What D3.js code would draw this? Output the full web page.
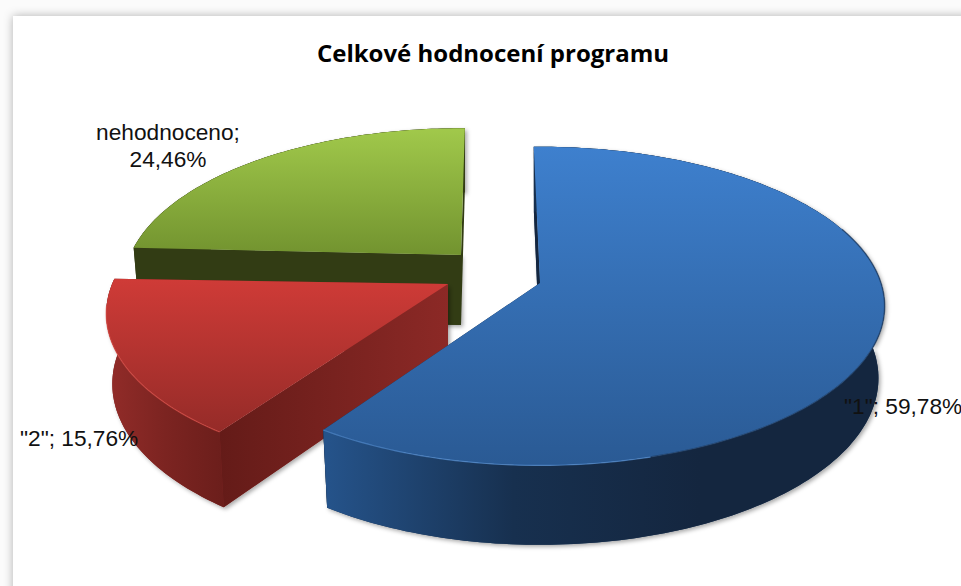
<!DOCTYPE html>
<html><head><meta charset="utf-8">
<script src="https://cdn.jsdelivr.net/npm/d3@7"></script>
<style>html,body{margin:0;padding:0;background:#fbfbfb;overflow:hidden}svg{display:block}</style>
</head><body><svg id="c" width="961" height="586"></svg>
<script>
const title = "Celkové hodnocení programu";
const categories = ['"1"', '"2"', 'nehodnoceno'];
const values = [59.78, 15.76, 24.46];
const labelLines = [['"1"; 59,78%'], ['"2"; 15,76%'], ['nehodnoceno;', '24,46%']];
const labelAnchors = [[844, 414, 'start'], [20, 446, 'start'], [168, 140, 'middle']];
const apexes = [[540, 283], [448, 284], [461, 255]];
const radii = [1, 0.985, 0.97];
const rotations = [-1.2, 0, 0.8];
const perspectives = [0.145, 0.189, 0.2];
const wallHeights = [71, 69, 70];
const topColors = [['#3e80ce', '#2a5a94'], ['#cf3b37', '#952b28'], ['#a1c94b', '#72932f']];
const wallColors = [['#25538a', '#17304f', '#14263f'], ['#932c29', '#7c2421', '#6b1e1b'], ['#323c14', '#323c14', '#323c14']];
const cutColors = [['#14263f', '#14263f'], ['#641b18', '#8c2926'], ['#323c14', '#323c14']];
const rimColors = ['#5a96dc', '#e0504a', null];
const rimFrom = [165, 215, 0];
const rimTo = [220, 262, 0];
const edgeShade = ['#1a3558', null, null];
const edgeFrom = [70, 0, 0];
const edgeTo = [165, 0, 0];
const topRange = [[146, 465], [279, 432], [128, 255]];
const wallRange = [[327, 700], [105, 225], [130, 461]];
const cutRange = [[327, 540], [218, 449], [130, 461]];

const kx = 341, ky = 156, basePersp = 0.141, shrink = 0.018;
const svg = d3.select('#c');
const defs = svg.append('defs');
const grad = (id, x1, y1, x2, y2, cols) => {
  const g = defs.append('linearGradient').attr('id', id).attr('gradientUnits', 'userSpaceOnUse')
    .attr('x1', x1).attr('y1', y1).attr('x2', x2).attr('y2', y2);
  cols.forEach((c, i) => g.append('stop').attr('offset', i / (cols.length - 1)).attr('stop-color', c));
};
const f = defs.append('filter').attr('id', 'sh').attr('x', '-10%').attr('y', '-10%').attr('width', '120%').attr('height', '120%');
f.append('feDropShadow').attr('dx', 2).attr('dy', 2).attr('stdDeviation', 2).attr('flood-color', '#000').attr('flood-opacity', 0.35);
const fr = defs.append('filter').attr('id', 'frame').attr('x', '-5%').attr('y', '-5%').attr('width', '110%').attr('height', '110%');
fr.append('feDropShadow').attr('dx', 0).attr('dy', 0).attr('stdDeviation', 5).attr('flood-color', '#000').attr('flood-opacity', 0.3);

svg.append('rect').attr('x', 13).attr('y', 16).attr('width', 1000).attr('height', 640).attr('fill', '#fff').attr('filter', 'url(#frame)');

const pie = d3.pie().sort(null).value(d => d)(values);
const line = d3.line();
const rad = d => d * Math.PI / 180;

function project(i, a, r, z) {
  const [cx, cy] = apexes[i];
  const t = a + rad(rotations[i]);
  const u = Math.sin(t) * r * radii[i], v = -Math.cos(t) * r * radii[i];
  const d = 1 - perspectives[i] * v, s = 1 - z * shrink;
  return [cx + kx * u / d * s, cy + ky * v / d * s + wallHeights[i] * z / (1 - basePersp * v)];
}
function rim(i, a0, a1, z) {
  const n = Math.ceil(Math.abs(a1 - a0) / 0.02);
  return d3.range(n + 1).map(k => project(i, a0 + (a1 - a0) * k / n, 1, z));
}

pie.forEach((p, i) => {
  grad('top' + i, 0, topRange[i][0], 0, topRange[i][1], topColors[i]);
  grad('wall' + i, wallRange[i][0], 0, wallRange[i][1], 0, wallColors[i]);
  grad('cut' + i, cutRange[i][0], 0, cutRange[i][1], 0, cutColors[i]);
});

[2, 1, 0].forEach(i => {
  const p = pie[i], a0 = p.startAngle, a1 = p.endAngle;
  const g = svg.append('g').attr('class', 'slice').datum(categories[i]);
  const body = g.append('g').attr('filter', 'url(#sh)');
  const apexT = project(i, 0, 0, 0), apexB = project(i, 0, 0, 1);
  body.append('path').attr('d', line([...rim(i, a0, a1, 0), ...rim(i, a1, a0, 1), apexB, apexT]) + 'Z').attr('fill', wallColors[i][1]);
  [a0, a1].forEach(a => {
    g.append('path')
      .attr('d', line([apexT, project(i, a, 1, 0), project(i, a, 1, 1), apexB]) + 'Z')
      .attr('fill', `url(#cut${i})`);
  });
  g.append('path')
    .attr('d', line([...rim(i, a0, a1, 0), ...rim(i, a1, a0, 1)]) + 'Z')
    .attr('fill', `url(#wall${i})`);
  g.append('path')
    .attr('d', line([apexT, ...rim(i, a0, a1, 0)]) + 'Z')
    .attr('fill', `url(#top${i})`);
  if (edgeShade[i]) {
    g.append('path')
      .attr('d', line(rim(i, rad(edgeFrom[i]), rad(edgeTo[i]), 0)))
      .attr('fill', 'none').attr('stroke', edgeShade[i]).attr('stroke-width', 1.5).attr('stroke-opacity', 0.6);
  }
  if (rimColors[i]) {
    g.append('path')
      .attr('d', line(rim(i, Math.max(a0, rad(rimFrom[i])), Math.min(a1, rad(rimTo[i])), 0)))
      .attr('fill', 'none').attr('stroke', rimColors[i]).attr('stroke-width', 1.2).attr('stroke-opacity', 0.6);
  }
});

svg.append('text').attr('x', 493).attr('y', 62).attr('text-anchor', 'middle')
  .attr('font-family', '"Open Sans"').attr('font-weight', 700).attr('font-size', 24).attr('fill', '#000').text(title);

labelLines.forEach((ls, i) => {
  const [x, y, an] = labelAnchors[i];
  const t = svg.append('text').attr('text-anchor', an).attr('font-family', '"Liberation Sans"').attr('font-size', 22.7).attr('fill', '#111');
  ls.forEach((s, k) => t.append('tspan').attr('x', x).attr('y', y + k * 27).text(s));
});
</script></body></html>
